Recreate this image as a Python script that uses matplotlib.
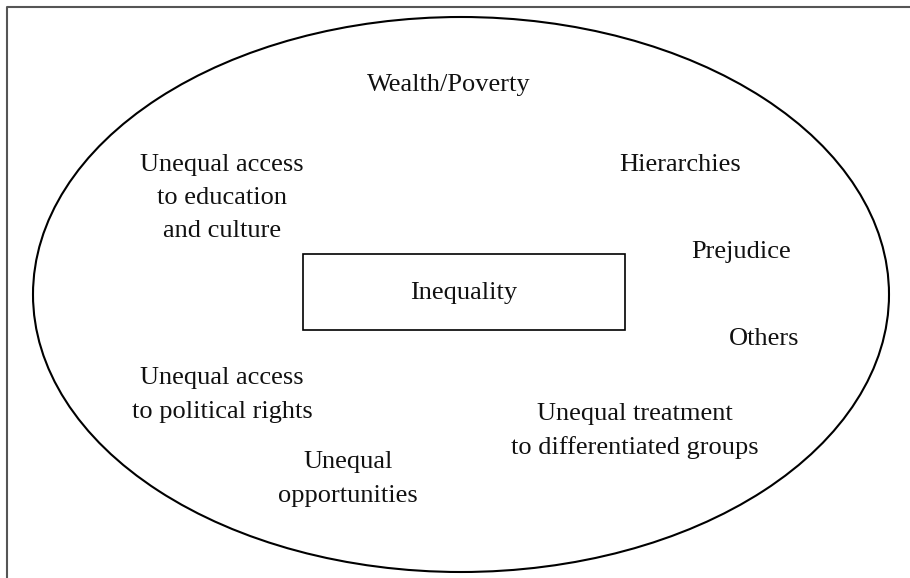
import matplotlib
matplotlib.use("Agg")
import matplotlib.pyplot as plt
from matplotlib.patches import Ellipse, Rectangle

# labels around the centre box, with approximate centre positions (pixels)
labels = ["Wealth/Poverty",
          "Unequal access\nto education\nand culture",
          "Hierarchies",
          "Prejudice",
          "Others",
          "Unequal access\nto political rights",
          "Unequal treatment\nto differentiated groups",
          "Unequal\nopportunities"]
label_x = [449, 222, 680, 741, 764, 222, 635, 348]
label_y = [85, 198, 165, 252, 339, 395, 431, 479]
centre_label = "Inequality"

W, H = 910, 578
fig = plt.figure(figsize=(W / 100, H / 100), dpi=100)
ax = fig.add_axes([0, 0, 1, 1])
ax.set_xlim(0, W)
ax.set_ylim(H, 0)
ax.axis("off")

# frame (only top and left edges are visible)
ax.plot([7, 7, W], [H, 6.5, 6.5], color="#555555", lw=1.5)

ax.add_patch(Ellipse((461, 294.5), 856, 555, fill=False, ec="black", lw=1.5))
ax.add_patch(Rectangle((303, 254), 322, 76, fill=False, ec="black", lw=1.2))

font = dict(family="Liberation Serif", fontsize=19, color="#111111")
ax.text(464, 293, centre_label, ha="center", va="center", **font)
for t, x, y in zip(labels, label_x, label_y):
    ax.text(x, y, t, ha="center", va="center", multialignment="center",
            linespacing=1.65, **font)

fig.savefig("out.png", dpi=100)
